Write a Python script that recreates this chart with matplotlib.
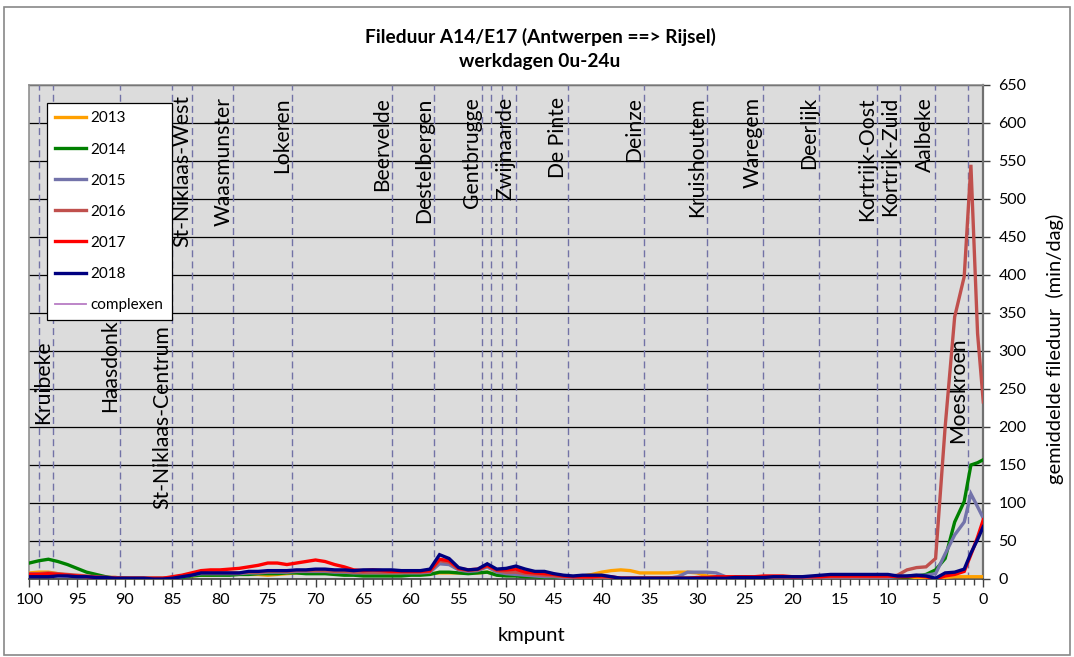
import matplotlib
matplotlib.use("Agg")
import matplotlib.pyplot as plt
from matplotlib.patches import Rectangle
from matplotlib.ticker import MultipleLocator

plt.rcParams['font.family'] = ['Lato', 'DejaVu Sans']

# ---------------- data ----------------
km = [100, 99, 98, 97, 96, 95, 94, 93, 92, 91,
      90, 89, 88, 87, 86, 85, 84, 83, 82, 81,
      80, 79, 78, 77, 76, 75, 74, 73, 72, 71,
      70, 69, 68, 67, 66, 65, 64, 63, 62, 61,
      60, 59, 58, 57, 56, 55, 54, 53, 52, 51,
      50, 49, 48, 47, 46, 45, 44, 43, 42, 41,
      40, 39, 38, 37, 36, 35, 34, 33, 32, 31,
      30, 29, 28, 27, 26, 25, 24, 23, 22, 21,
      20, 19, 18, 17, 16, 15, 14, 13, 12, 11,
      10, 9, 8, 7, 6, 5, 4, 3, 2,
      1.3, 0.6, 0]

y2013 = [8, 9, 9, 7, 5, 4, 3, 3, 2, 2,
         1, 1, 1, 1, 1, 2, 3, 4, 5, 5,
         6, 6, 6, 6, 6, 5, 6, 7, 8, 8,
         8, 8, 7, 7, 7, 7, 6, 6, 6, 6,
         6, 6, 7, 8, 8, 8, 8, 8, 9, 6,
         5, 5, 4, 4, 3, 3, 3, 3, 4, 6,
         9, 11, 12, 11, 8, 8, 8, 8, 9, 9,
         8, 4, 3, 3, 3, 3, 2, 2, 2, 2,
         2, 2, 2, 2, 2, 2, 2, 2, 2, 2,
         2, 2, 2, 1, 1, 0, 2, 3, 3,
         3, 3, 3]

y2014 = [21, 24, 26, 23, 19, 14, 9, 6, 3, 1,
         1, 0, 0, 0, 0, 1, 2, 4, 5, 5,
         5, 5, 6, 6, 7, 7, 7, 8, 8, 7,
         7, 7, 6, 5, 5, 4, 4, 4, 4, 4,
         5, 5, 6, 9, 9, 8, 7, 8, 9, 5,
         4, 4, 3, 3, 2, 2, 1, 1, 1, 1,
         0, 0, 1, 1, 1, 1, 1, 1, 1, 1,
         1, 1, 1, 1, 1, 1, 1, 1, 1, 1,
         1, 1, 1, 1, 1, 1, 1, 1, 1, 1,
         2, 1, 2, 4, 6, 12, 27, 75, 102,
         150, 153, 157]

y2015 = [6, 6, 6, 5, 4, 3, 3, 2, 2, 1,
         1, 1, 1, 1, 1, 2, 3, 5, 7, 7,
         7, 7, 7, 8, 8, 9, 9, 9, 10, 10,
         10, 10, 9, 9, 8, 8, 8, 8, 8, 8,
         8, 8, 9, 20, 19, 12, 10, 11, 16, 9,
         7, 6, 5, 4, 3, 3, 2, 2, 2, 2,
         2, 2, 1, 1, 1, 1, 1, 1, 3, 9,
         9, 9, 8, 3, 2, 2, 2, 2, 2, 2,
         2, 2, 2, 2, 2, 2, 2, 2, 2, 2,
         2, 3, 4, 5, 5, 7, 33, 58, 75,
         112, 95, 80]

y2016 = [7, 7, 8, 7, 6, 5, 4, 3, 2, 2,
         1, 1, 1, 1, 1, 2, 4, 6, 8, 8,
         8, 8, 8, 9, 9, 10, 10, 10, 11, 11,
         11, 11, 10, 10, 9, 9, 9, 9, 9, 9,
         9, 9, 10, 24, 22, 13, 11, 12, 17, 11,
         9, 9, 7, 6, 5, 4, 3, 3, 2, 2,
         2, 2, 1, 1, 1, 1, 1, 1, 1, 1,
         1, 1, 1, 1, 2, 2, 2, 2, 2, 2,
         2, 3, 3, 3, 3, 3, 3, 3, 3, 3,
         3, 5, 12, 15, 16, 27, 200, 345, 398,
         545, 323, 233]

y2017 = [6, 6, 7, 6, 5, 4, 3, 2, 2, 1,
         1, 1, 1, 1, 1, 3, 5, 8, 11, 12,
         12, 13, 14, 16, 18, 21, 21, 19, 21, 23,
         25, 23, 19, 16, 12, 11, 12, 11, 10, 10,
         10, 10, 11, 26, 24, 14, 12, 13, 18, 12,
         12, 13, 9, 8, 7, 6, 4, 3, 3, 3,
         4, 3, 1, 1, 1, 1, 1, 1, 1, 1,
         2, 2, 3, 3, 3, 3, 3, 4, 4, 4,
         3, 3, 3, 3, 4, 4, 4, 4, 4, 4,
         4, 3, 3, 4, 3, 0, 4, 6, 10,
         32, 55, 78]

y2018 = [3, 3, 3, 4, 4, 3, 3, 2, 2, 1,
         1, 1, 1, 0, 0, 1, 3, 5, 8, 8,
         8, 8, 8, 10, 10, 11, 11, 11, 12, 12,
         13, 13, 12, 12, 11, 12, 12, 12, 12, 11,
         11, 11, 13, 32, 27, 15, 12, 13, 20, 13,
         14, 17, 13, 10, 10, 7, 5, 4, 5, 5,
         5, 3, 1, 1, 1, 1, 1, 1, 1, 1,
         1, 1, 1, 1, 2, 2, 2, 2, 3, 3,
         3, 3, 4, 5, 6, 6, 6, 6, 6, 6,
         6, 4, 4, 5, 4, 1, 8, 9, 13,
         34, 52, 69]

series_labels = ['2013', '2014', '2015', '2016', '2017', '2018']
series_values = [y2013, y2014, y2015, y2016, y2017, y2018]
series_colors = ['#FFA000', '#008000', '#7373AA', '#C0504D', '#FF0000', '#000080']

# interchanges (km positions) and names
exit_km = [99.0, 97.5, 90.5, 85.0, 82.9, 78.6, 72.5, 62.0, 57.6, 52.5,
           51.6, 50.5, 49.0, 43.5, 35.6, 29.0, 23.1, 17.2, 11.1, 8.7,
           5.1, 1.6]
exit_names = ['', 'Kruibeke', 'Haasdonk', 'St-Niklaas-Centrum', 'St-Niklaas-West',
              'Waasmunster', 'Lokeren', 'Beervelde', 'Destelbergen', 'Gentbrugge',
              '', '', 'Zwijnaarde', 'De Pinte', 'Deinze', 'Kruishoutem', 'Waregem',
              'Deerlijk', 'Kortrijk-Oost', 'Kortrijk-Zuid', 'Aalbeke', 'Moeskroen']
exit_label_top = [634, 314, 341, 334, 637, 634, 634, 634, 634, 634,
                  634, 634, 634, 634, 634, 634, 634, 634, 634, 634,
                  634, 318]

title = 'Fileduur A14/E17 (Antwerpen ==> Rijsel)\nwerkdagen 0u-24u'

# ---------------- figure ----------------
W, H = 1074, 657
fig = plt.figure(figsize=(W / 100, H / 100), dpi=100)
fig.patch.set_facecolor('white')
fig.patches.append(Rectangle((4 / W, 2 / H), 1 - 8 / W, 1 - 9 / H, transform=fig.transFigure,
                             fill=False, edgecolor='#888888', lw=1.2, zorder=0))

ax = fig.add_axes([29.3 / W, 1 - 579 / H, 954 / W, 494 / H])
ax.set_facecolor('#DCDCDC')
ax.set_xlim(100, 0)
ax.set_ylim(0, 650)

ax.yaxis.tick_right()
ax.yaxis.set_label_position('right')
ax.yaxis.set_major_locator(MultipleLocator(50))
ax.xaxis.set_major_locator(MultipleLocator(5))
ax.xaxis.set_minor_locator(MultipleLocator(1))
ax.tick_params(axis='x', which='major', length=6, width=1, color='#404040',
               labelsize=11.5, pad=4, direction='out')
ax.tick_params(axis='x', which='minor', length=4, width=1, color='#404040', direction='out')
ax.tick_params(axis='y', which='major', length=5, width=1, color='#404040',
               labelsize=11.5, pad=6, direction='out', right=True, left=False)

ax.yaxis.grid(True, color='black', lw=0.9)
ax.set_axisbelow(True)

for side in ['top', 'left']:
    ax.spines[side].set_color('#909090')
    ax.spines[side].set_linewidth(1.2)
ax.spines['right'].set_color('#707070')
ax.spines['right'].set_linewidth(1.6)
ax.spines['bottom'].set_color('#404040')
ax.spines['bottom'].set_linewidth(1.2)

for k, name, top in zip(exit_km, exit_names, exit_label_top):
    ax.axvline(k, color='#7272A6', lw=1.0, ls=(0, (5, 3)), zorder=1.5)
    if name:
        ax.text(k, top, name, rotation=90, ha='right', va='top', fontsize=15.2,
                color='black', zorder=2)

for lab, vals, col in zip(series_labels, series_values, series_colors):
    ax.plot(km, vals, color=col, lw=2.4, label=lab, zorder=3, solid_joinstyle='miter')
ax.plot([], [], color='#B77CC4', lw=1.3, label='complexen')

leg = ax.legend(loc='upper left', bbox_to_anchor=(47 / W, 1 - 103 / H),
                bbox_transform=fig.transFigure, borderaxespad=0, fontsize=11,
                frameon=True, fancybox=False, edgecolor='black', framealpha=1,
                handlelength=2.0, handletextpad=0.3, labelspacing=1.12,
                borderpad=0.55)
leg.get_frame().set_linewidth(0.9)
leg.set_zorder(5)

ax.set_ylabel('gemiddelde fileduur  (min/dag)', fontsize=14.5)
ax.yaxis.set_label_coords(1.066, 0.465)
fig.text(531 / W, 1 - 635 / H, 'kmpunt', ha='center', va='center', fontsize=14.5)

fig.text(540 / W, 1 - 49 / H, title, ha='center', va='center', fontsize=13.8,
         fontweight='bold', linespacing=1.55)

fig.savefig('out.png', dpi=100)
